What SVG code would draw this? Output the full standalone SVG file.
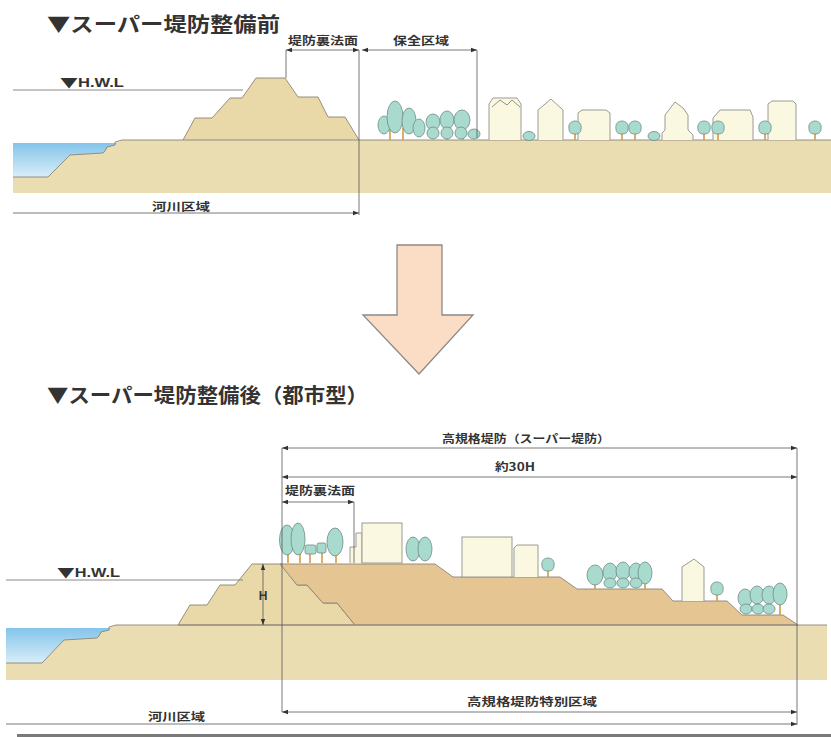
<svg xmlns="http://www.w3.org/2000/svg" width="831" height="737" viewBox="0 0 831 737">
  <defs>
    <linearGradient id="water" x1="0" y1="0" x2="0" y2="1">
      <stop offset="0" stop-color="#84C4EA"/>
      <stop offset="1" stop-color="#D8EEF8"/>
    </linearGradient>
    <marker id="ah" viewBox="0 0 6 6" refX="6" refY="3" markerWidth="6" markerHeight="6" markerUnits="userSpaceOnUse" orient="auto-start-reverse">
      <path d="M0,0.8 L6,3 L0,5.2 Z" fill="#333"/>
    </marker>
    <g id="tree">
      <path d="M0,0 V-7" stroke="#D59A45" stroke-width="1.6"/>
      <path d="M-6,-11 C-7,-16 -4,-19 0,-19 C4,-19 7,-16 6,-11 C6,-7 3,-6 0,-6 C-3,-6 -6,-7 -6,-11 Z" class="leaf"/>
    </g>
  </defs>
  <style>
    .ground { fill: #EADDB2; }
    .dike { fill: #E9D8A8; stroke: #8A8478; stroke-width: 0.9; }
    .fill { fill: #E5C692; stroke: #8A8478; stroke-width: 0.9; }
    .edge { fill: none; stroke: #8A8478; stroke-width: 0.9; }
    .leaf { fill: #A9DACE; stroke: #6E8C86; stroke-width: 0.8; }
    .trunk { stroke: #D59A45; stroke-width: 1.6; }
    .house { fill: #FBF8E2; stroke: #9A9A94; stroke-width: 1; }
    .dim { fill: none; stroke: #555; stroke-width: 0.8; }
    .dimA { fill: none; stroke: #555; stroke-width: 0.8; marker-start: url(#ah); marker-end: url(#ah); }
    .dimE { fill: none; stroke: #555; stroke-width: 0.8; marker-end: url(#ah); }
    .hwl { fill: none; stroke: #888; stroke-width: 1; }
    .title { font-family: "Noto Sans CJK JP", "Noto Sans", sans-serif; font-size: 20px; font-weight: 700; fill: #333; }
    .lbl { font-family: "Noto Sans CJK JP", "Noto Sans", sans-serif; font-size: 11px; font-weight: 700; fill: #333; }
    .en { font-family: "Liberation Sans", Arial, sans-serif; font-size: 12px; font-weight: 700; fill: #333; }
    .tri { font-family: "Noto Sans CJK JP", sans-serif; font-size: 13px; }
  </style>

  <!-- ===== Before: existing levee ===== -->
  <g id="before">
    <text class="title" x="47" y="32" textLength="233" lengthAdjust="spacingAndGlyphs">▼スーパー堤防整備前</text>

    <g id="before-ground">
      <path class="ground" d="M13,143 H115 L122,140 H831 V193 H13 Z"/>
      <path d="M13,143 H117 L115,145 L107,147 L105,151 L103,153 L70,155 L48,177 H13 Z" fill="url(#water)"/>
      <path class="edge" d="M13,177 H48 L70,155 L103,153 L105,151 L107,147 L115,145 L115,142 L122,140 H183"/>
      <path class="edge" d="M359,140 H831"/>
      <polygon class="dike" points="183,140 195,118 212,118 230,98 242,98 256,78 285,78 298,97 318,97 328,117 345,117 359,140"/>
    </g>

    <g id="before-trees-left">
      <path class="trunk" d="M390,140 V128 M403,140 V128 M447,140 V130 M463,140 V130"/>
      <ellipse class="leaf" cx="384" cy="125" rx="6" ry="9"/>
      <ellipse class="leaf" cx="395" cy="117" rx="8" ry="16"/>
      <ellipse class="leaf" cx="409" cy="121" rx="7" ry="13"/>
      <ellipse class="leaf" cx="419" cy="128" rx="6" ry="9"/>
      <ellipse class="leaf" cx="433" cy="122" rx="7" ry="8"/>
      <ellipse class="leaf" cx="447" cy="120" rx="7" ry="9"/>
      <ellipse class="leaf" cx="462" cy="120" rx="8" ry="10"/>
      <ellipse class="leaf" cx="433" cy="133" rx="6" ry="6"/>
      <ellipse class="leaf" cx="447" cy="133" rx="6" ry="6"/>
      <ellipse class="leaf" cx="461" cy="133" rx="6" ry="6"/>
      <ellipse class="leaf" cx="474" cy="134" rx="6" ry="5"/>
    </g>

    <g id="before-houses">
      <path class="house" d="M489,140 V104 L493,98 H517 L521,104 V140"/>
      <path class="edge" d="M492,107 L500,100 L507,105 L512,100 L520,107" stroke="#9A9A94"/>
      <path class="house" d="M538,140 V110 L551,99 L563,110 V140"/>
      <path class="house" d="M578,140 V113 L582,110 H606 L610,113 V140"/>
      <path class="house" d="M662,140 V133 L665,130 V115 L675,102 L683,108 L688,115 V130 L693,135 V140"/>
      <path class="house" d="M713,140 V118 L720,110 H750 L753,117 V140"/>
      <path class="house" d="M768,140 V104 L772,101 H793 L796,104 V140"/>
    </g>

    <g id="before-trees-right">
      <ellipse class="leaf" cx="529" cy="136" rx="6" ry="4.5"/>
      <use href="#tree" x="575" y="140"/>
      <use href="#tree" x="622" y="140"/>
      <use href="#tree" x="635" y="140"/>
      <ellipse class="leaf" cx="654" cy="136" rx="6" ry="4.5"/>
      <use href="#tree" x="704" y="140"/>
      <use href="#tree" x="718" y="140"/>
      <use href="#tree" x="765" y="140"/>
      <use href="#tree" x="815" y="140"/>
    </g>

    <g id="before-labels">
      <text class="en" x="60" y="87" textLength="64" lengthAdjust="spacingAndGlyphs"><tspan class="tri">▼</tspan>H.W.L</text>
      <text class="lbl" x="288" y="45" textLength="70" lengthAdjust="spacingAndGlyphs">堤防裏法面</text>
      <text class="lbl" x="393" y="45" textLength="56" lengthAdjust="spacingAndGlyphs">保全区域</text>
      <text class="lbl" x="152" y="211" textLength="58" lengthAdjust="spacingAndGlyphs">河川区域</text>
    </g>
  </g>

  <!-- transition arrow -->
  <g id="arrow">
    <path d="M397,245 H442 V315 H473 L419,374 L363,315 H397 Z" fill="#FBDCC5" stroke="#8A8A8A" stroke-width="1.3" stroke-linejoin="miter"/>
  </g>

  <!-- ===== After: super levee (urban type) ===== -->
  <g id="after">
    <text class="title" x="47" y="403" textLength="321" lengthAdjust="spacingAndGlyphs">▼スーパー堤防整備後（都市型）</text>

    <g id="after-ground">
      <path class="ground" d="M6,628 H109 L116,625 H827 V680 H6 Z"/>
      <path d="M6,628 H111 L109,630 L101,632 L99,636 L97,638 L64,640 L42,663 H6 Z" fill="url(#water)"/>
      <path class="edge" d="M6,663 H42 L64,640 L97,638 L99,636 L101,632 L109,630 L109,627 L116,625 H178"/>
      <polygon class="dike" points="178,625 190,605 207,605 220,585 235,585 252,564 282,564 297,585 307,585 323,603 337,603 355,625"/>
      <polygon class="fill" points="280,564 435,564 453,577 560,577 577,589 662,589 673,601 727,601 742,615 783,615 798,625 355,625 337,603 323,603 307,585 297,585"/>
      <path class="edge" d="M178,625 H827"/>
    </g>

    <g id="after-trees-crest">
      <path class="trunk" d="M288,563 V550 M300,563 V550 M310,563 V553 M322,563 V552 M336,563 V552"/>
      <ellipse class="leaf" cx="287" cy="540" rx="7.5" ry="15"/>
      <ellipse class="leaf" cx="298" cy="539" rx="7" ry="16"/>
      <rect class="leaf" x="305" y="545" width="11" height="9" rx="2"/>
      <rect class="leaf" x="317" y="543" width="9" height="10" rx="2"/>
      <ellipse class="leaf" cx="335" cy="542" rx="8" ry="14"/>
      <ellipse class="leaf" cx="413" cy="549" rx="7" ry="12"/>
      <ellipse class="leaf" cx="425" cy="549" rx="7" ry="12"/>
    </g>

    <g id="after-buildings">
      <path class="house" d="M350,563 V547 H356 V533 H362 V563"/>
      <rect class="house" x="362" y="523" width="40" height="40"/>
      <rect class="house" x="462" y="537" width="50" height="40"/>
      <path class="house" d="M514,577 V548 L517,545 H538 V577"/>
      <path class="house" d="M682,601 V567 L694,559 L704,567 V601"/>
    </g>

    <g id="after-trees-slope">
      <use href="#tree" x="548" y="577"/>
      <path class="trunk" d="M595,589 V580 M645,589 V580"/>
      <ellipse class="leaf" cx="595" cy="575" rx="8" ry="10"/>
      <ellipse class="leaf" cx="610" cy="572" rx="7" ry="9"/>
      <ellipse class="leaf" cx="623" cy="571" rx="7" ry="9"/>
      <ellipse class="leaf" cx="636" cy="572" rx="7" ry="9"/>
      <ellipse class="leaf" cx="645" cy="573" rx="7" ry="11"/>
      <ellipse class="leaf" cx="610" cy="583" rx="6" ry="5"/>
      <ellipse class="leaf" cx="623" cy="583" rx="6" ry="5"/>
      <ellipse class="leaf" cx="636" cy="583" rx="6" ry="5"/>
      <use href="#tree" x="717" y="601"/>
      <path class="trunk" d="M780,615 V605"/>
      <ellipse class="leaf" cx="745" cy="598" rx="7" ry="9"/>
      <ellipse class="leaf" cx="757" cy="595" rx="7" ry="9"/>
      <ellipse class="leaf" cx="769" cy="595" rx="7" ry="9"/>
      <ellipse class="leaf" cx="780" cy="594" rx="7" ry="11"/>
      <ellipse class="leaf" cx="746" cy="609" rx="6" ry="5"/>
      <ellipse class="leaf" cx="758" cy="609" rx="6" ry="5"/>
      <ellipse class="leaf" cx="769" cy="609" rx="6" ry="5"/>
    </g>

    <g id="after-labels">
      <text class="en" x="57" y="577" textLength="63" lengthAdjust="spacingAndGlyphs"><tspan class="tri">▼</tspan>H.W.L</text>
      <text class="en" x="263" y="600" text-anchor="middle" font-size="11">H</text>
      <text class="lbl" x="442" y="443" textLength="168" lengthAdjust="spacingAndGlyphs">高規格堤防（スーパー堤防）</text>
      <text class="lbl" x="495" y="471" textLength="40" lengthAdjust="spacingAndGlyphs">約30H</text>
      <text class="lbl" x="285" y="495" textLength="70" lengthAdjust="spacingAndGlyphs">堤防裏法面</text>
      <text class="lbl" x="467" y="706" textLength="130" lengthAdjust="spacingAndGlyphs">高規格堤防特別区域</text>
      <text class="lbl" x="148" y="721" textLength="57" lengthAdjust="spacingAndGlyphs">河川区域</text>
    </g>
  </g>

  <!-- dimension and reference lines -->
  <g id="connectors">
    <path class="hwl" d="M13,90 H243"/>
    <path class="dimA" d="M286,50 H359"/>
    <path class="dimA" d="M362,50 H477"/>
    <path class="dim" d="M286,50 V78 M359,50 V215 M477,50 V138"/>
    <path class="dimE" d="M13,213 H359"/>

    <path class="hwl" d="M6,580 H243"/>
    <path class="dimA" d="M263,564 V625"/>
    <path class="dimA" d="M282,448 H797"/>
    <path class="dimA" d="M282,477 H797"/>
    <path class="dimA" d="M282,502 H354"/>
    <path class="dim" d="M282,448 V712 M797,448 V725 M354,502 V563"/>
    <path class="dimA" d="M282,712 H797"/>
    <path class="dimE" d="M6,724 H797"/>
  </g>

  <rect x="17" y="734" width="814" height="3" fill="#7A7A7A"/>
</svg>
